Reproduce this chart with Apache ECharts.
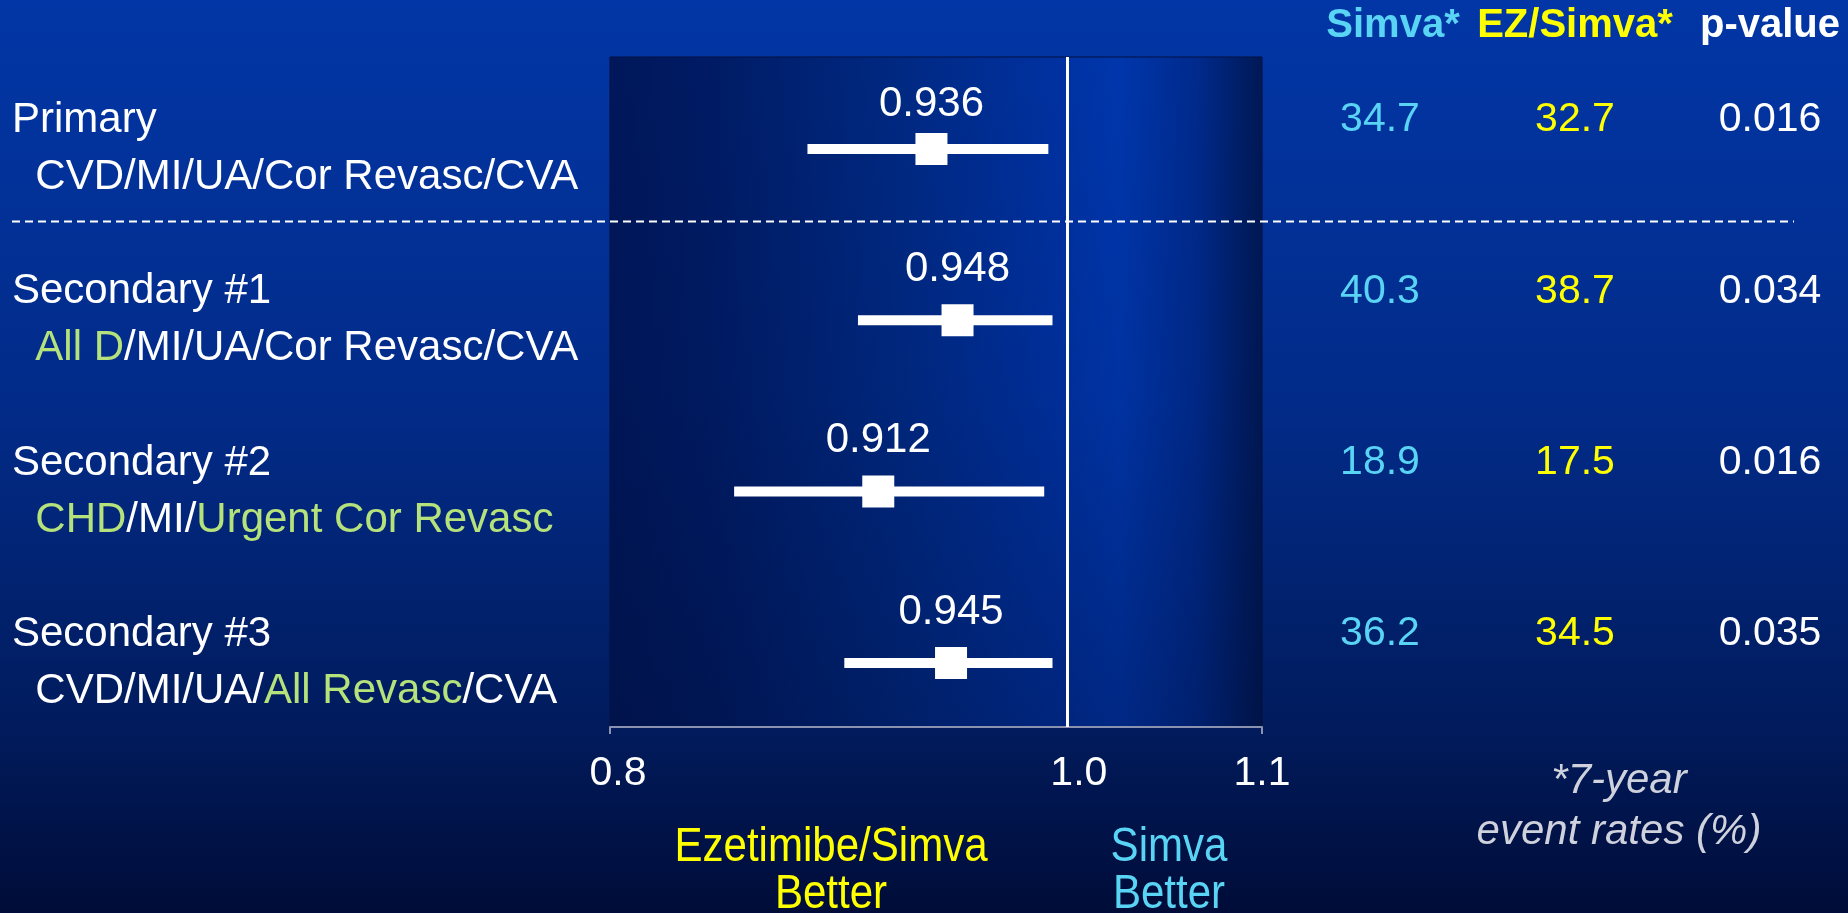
<!DOCTYPE html>
<html>
<head>
<meta charset="utf-8">
<title>IMPROVE-IT endpoints</title>
<script src="https://cdn.jsdelivr.net/npm/echarts@6/dist/echarts.min.js"></script>
<style>
  html, body { margin: 0; padding: 0; background: #001244; }
  #chart { width: 1848px; height: 913px; }
</style>
</head>
<body>
<div id="chart"></div>
<script>
// Endpoint rows (top to bottom)
const rowTitles = ['Primary', 'Secondary #1', 'Secondary #2', 'Secondary #3'];
// Endpoint definitions: [text, highlighted]
const rowEndpoints = [
  [['CVD/MI/UA/Cor Revasc/CVA', false]],
  [['All D', true], ['/MI/UA/Cor Revasc/CVA', false]],
  [['CHD', true], ['/MI/', false], ['Urgent Cor Revasc', true]],
  [['CVD/MI/UA/', false], ['All Revasc', true], ['/CVA', false]]
];
// Hazard ratios with 95% confidence limits
const hazardRatio = [0.936, 0.948, 0.912, 0.945];
const ciLower = [0.881, 0.903, 0.850, 0.897];
const ciUpper = [0.991, 0.993, 0.989, 0.993];
// 7-year event rates (%) and p-values
const simvaRate = [34.7, 40.3, 18.9, 36.2];
const ezSimvaRate = [32.7, 38.7, 17.5, 34.5];
const pValue = [0.016, 0.034, 0.016, 0.035];
const tableHeaders = ['Simva*', 'EZ/Simva*', 'p-value'];
// Hazard-ratio axis
const xTickLabels = [0.8, 1.0, 1.1];
const xEndTicks = [0.8, 1.1];

const FONT = '"Liberation Sans", Arial, sans-serif';
const CYAN = '#5ad4f4';
const YELLOW = '#ffff00';
const GREEN = '#b6e27c';

const rowIdx = rowTitles.map((_, i) => i);
const Y_MIN = -0.537, Y_MAX = 3.374;

function rowLabel(i) {
  const parts = rowEndpoints[i].map((p, k) =>
    '{' + (p[1] ? 'g' : 'w') + '|' + (k === 0 ? '  ' : '') + p[0] + '}');
  return '{w|' + rowTitles[i] + '}\n' + parts.join('');
}

// small nudges of the tick labels off their tick positions
const tickLabelPad = { '0.8': 16, '1.0': 24, '1.1': 0 };
// vertical lift of each hazard-ratio label above its square (the top row sits a bit lower)
const hrLabelLift = i => (i === 0 ? 45 : 51);

const chart = echarts.init(document.getElementById('chart'), null, { renderer: 'canvas' });

const option = {
  animation: false,
  backgroundColor: {
    type: 'linear', x: 0, y: 0, x2: 0, y2: 1,
    colorStops: [
      { offset: 0, color: '#0236a6' },
      { offset: 0.45, color: '#022b88' },
      { offset: 0.8, color: '#011b5c' },
      { offset: 1, color: '#000c38' }
    ]
  },
  grid: [
    {
      left: 610, right: 586, top: 57, bottom: 186,
      show: true, borderColor: '#001040', borderWidth: 1,
      outerBoundsMode: 'none',
      backgroundColor: {
        type: 'linear', x: 0, y: 0, x2: 1, y2: 0,
        colorStops: [
          { offset: 0, color: '#00175a' },
          { offset: 0.15, color: '#001b64' },
          { offset: 0.45, color: '#002983' },
          { offset: 0.68, color: '#0031a0' },
          { offset: 0.78, color: '#0036ac' },
          { offset: 0.9, color: '#002a8c' },
          { offset: 1, color: '#001854' }
        ]
      }
    },
    { left: 1380, right: 78, top: 57, bottom: 186, outerBoundsMode: 'none' }
  ],
  xAxis: [
    {
      type: 'log', gridIndex: 0, min: 0.8, max: 1.1, logBase: 10,
      axisLine: { show: true, onZero: false, lineStyle: { color: '#8a92b0', width: 2 } },
      axisTick: { show: true, customValues: xEndTicks, length: 7, lineStyle: { color: '#8a92b0', width: 2 } },
      splitLine: { show: false },
      axisLabel: {
        customValues: xTickLabels, margin: 26,
        formatter: v => {
          const s = Number(v).toFixed(1);
          return '{p' + tickLabelPad[s] + '|' + s + '}';
        },
        rich: Object.fromEntries(Object.values(tickLabelPad).map(p => [
          'p' + p,
          { color: '#ffffff', fontSize: 41, fontFamily: FONT, padding: [0, 0, 0, p] }
        ]))
      }
    },
    {
      type: 'category', gridIndex: 1, data: tableHeaders, position: 'top', boundaryGap: false,
      axisLine: { show: false }, axisTick: { show: false },
      axisLabel: {
        margin: 31, verticalAlign: 'middle',
        formatter: (v, idx) => '{h' + idx + '|' + v + '}',
        rich: {
          h0: { color: CYAN, fontSize: 40, fontWeight: 'bold', fontFamily: FONT, padding: [0, 0, 0, 26] },
          h1: { color: YELLOW, fontSize: 40, fontWeight: 'bold', fontFamily: FONT },
          h2: { color: '#ffffff', fontSize: 40, fontWeight: 'bold', fontFamily: FONT }
        }
      }
    }
  ],
  yAxis: [
    {
      type: 'value', gridIndex: 0, inverse: true, min: Y_MIN, max: Y_MAX,
      axisLine: { show: false }, axisTick: { show: false }, splitLine: { show: false },
      axisLabel: {
        customValues: rowIdx, align: 'left', margin: 598,
        formatter: v => rowLabel(Math.round(v)),
        rich: {
          w: { color: '#ffffff', fontSize: 42, fontFamily: FONT, lineHeight: 57 },
          g: { color: GREEN, fontSize: 42, fontFamily: FONT, lineHeight: 57 }
        }
      }
    },
    {
      type: 'value', gridIndex: 1, inverse: true, min: Y_MIN, max: Y_MAX,
      show: false
    }
  ],
  series: [
    {
      // confidence interval bars
      type: 'custom', xAxisIndex: 0, yAxisIndex: 0, z: 3,
      data: rowIdx.map(i => [ciLower[i], ciUpper[i], i]),
      encode: { x: [0, 1], y: 2 },
      renderItem: (params, api) => {
        const a = api.coord([api.value(0), api.value(2)]);
        const b = api.coord([api.value(1), api.value(2)]);
        return {
          type: 'rect',
          shape: { x: a[0], y: a[1] - 5, width: b[0] - a[0], height: 10 },
          style: { fill: '#ffffff' }
        };
      },
      markLine: {
        silent: true, symbol: 'none', label: { show: false },
        lineStyle: { color: '#ffffff', width: 3, type: 'solid' },
        data: [{ xAxis: 1.0 }]
      }
    },
    {
      // hazard ratio point estimates
      type: 'scatter', xAxisIndex: 0, yAxisIndex: 0, z: 4,
      symbol: 'rect', symbolSize: 32,
      itemStyle: { color: '#ffffff', opacity: 1 },
      data: rowIdx.map(i => ({
        value: [hazardRatio[i], i],
        label: { offset: [0, -hrLabelLift(i)] }
      })),
      label: {
        show: true, position: 'inside',
        color: '#ffffff', fontSize: 42, fontFamily: FONT,
        formatter: p => p.value[0].toFixed(3)
      }
    },
    ...[
      [simvaRate, CYAN, 1],
      [ezSimvaRate, YELLOW, 1],
      [pValue, '#ffffff', 3]
    ].map((cfg, col) => ({
      type: 'scatter', xAxisIndex: 1, yAxisIndex: 1,
      symbol: 'circle', symbolSize: 1,
      itemStyle: { color: 'rgba(0,0,0,0)', opacity: 1 },
      data: rowIdx.map(i => [col, i, cfg[0][i]]),
      label: {
        show: true, position: 'inside', offset: [0, -29], opacity: 1,
        color: cfg[1], fontSize: 41, fontFamily: FONT,
        formatter: p => p.value[2].toFixed(cfg[2])
      }
    }))
  ],
  graphic: [
    {
      // slight darkening towards the bottom of the plot panel
      type: 'rect', z: 1, silent: true,
      shape: { x: 611, y: 58, width: 651, height: 668 },
      style: {
        fill: {
          type: 'linear', x: 0, y: 0, x2: 0, y2: 1,
          colorStops: [
            { offset: 0, color: 'rgba(0,8,40,0)' },
            { offset: 0.5, color: 'rgba(0,8,40,0.08)' },
            { offset: 1, color: 'rgba(0,8,40,0.3)' }
          ]
        }
      }
    },
    {
      type: 'line', z: 5, silent: true,
      shape: { x1: 12, y1: 221.5, x2: 1794, y2: 221.5 },
      style: { stroke: '#ffffff', lineWidth: 1.8, lineDash: [8, 5] }
    },
    {
      type: 'text', x: 831, y: 871, scaleX: 0.876, silent: true,
      style: {
        text: 'Ezetimibe/Simva\nBetter', fill: YELLOW, fontSize: 48, lineHeight: 47,
        fontFamily: FONT, align: 'center', verticalAlign: 'middle'
      }
    },
    {
      type: 'text', x: 1169, y: 871, scaleX: 0.876, silent: true,
      style: {
        text: 'Simva\nBetter', fill: CYAN, fontSize: 48, lineHeight: 47,
        fontFamily: FONT, align: 'center', verticalAlign: 'middle'
      }
    },
    {
      type: 'text', x: 1619, y: 807, silent: true,
      style: {
        text: '*7-year\nevent rates (%)', fill: '#cfd2dc', fontSize: 42, lineHeight: 51,
        fontFamily: FONT, fontStyle: 'italic', align: 'center', verticalAlign: 'middle'
      }
    }
  ]
};

chart.setOption(option);
</script>
</body>
</html>
